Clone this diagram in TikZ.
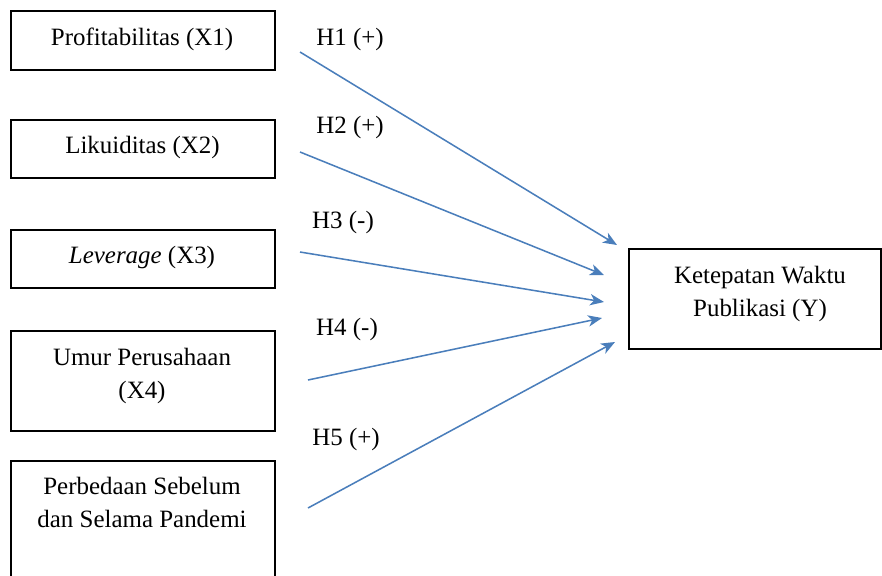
\documentclass[tikz,border=0pt]{standalone}
\usepackage{fontspec}
\setmainfont{Liberation Serif}
\usetikzlibrary{arrows.meta}
\definecolor{arrowblue}{HTML}{4A7EBB}
\begin{document}
\begin{tikzpicture}[x=0.75pt,y=-0.75pt,
  box/.style={draw=black, line width=1.1pt, minimum width=198pt, inner sep=0pt},
  txt/.style={font=\fontsize{18.7pt}{24.75pt}\selectfont, inner sep=0pt, align=center},
  hyp/.style={draw=arrowblue, line width=1.15pt, -{Stealth[length=10.5pt,width=8.5pt,inset=3pt]}}]
\useasboundingbox (0,0) rectangle (882,575);
\clip (0,0) rectangle (882,575);
% boxes
\node[box, minimum height=44.25pt] (b1) at (143,40.5) {};
\node[box, minimum height=43.5pt]  (b2) at (143,149) {};
\node[box, minimum height=43.5pt]  (b3) at (143,259) {};
\node[box, minimum height=75pt]    (b4) at (143,381) {};
\node[box, minimum height=119.25pt] (b5) at (143,540.5) {};
\node[box, minimum width=189pt, minimum height=75pt] (y) at (755,299) {};
% box texts
\node[txt, anchor=base] (t1) at (142,45) {Profitabilitas (X1)};
\node[txt, anchor=base] (t2) at (142.5,153) {Likuiditas (X2)};
\node[txt, anchor=base] (t3) at (142,263) {\textit{Leverage} (X3)};
\node[txt] (t4) at (142,376) {Umur Perusahaan\\(X4)};
\node[txt] (t5) at (142,502.5) {Perbedaan Sebelum\\dan Selama Pandemi};
\node[txt] (ty) at (760,294) {Ketepatan Waktu\\Publikasi (Y)};
% hypothesis labels
\node[txt, anchor=base] (h1) at (350,45) {H1 (+)};
\node[txt, anchor=base] (h2) at (350,133) {H2 (+)};
\node[txt, anchor=base] (h3) at (343,228) {H3 (-)};
\node[txt, anchor=base] (h4) at (347,335) {H4 (-)};
\node[txt, anchor=base] (h5) at (346,445) {H5 (+)};
% arrow end points
\coordinate (s1) at (300,52);  \coordinate (e1) at (617,245);
\coordinate (s2) at (300,152); \coordinate (e2) at (604,275);
\coordinate (s3) at (300,252); \coordinate (e3) at (604,302);
\coordinate (s4) at (308,380); \coordinate (e4) at (602,318);
\coordinate (s5) at (308,508); \coordinate (e5) at (615,342);
\draw[hyp] (s1) -- (e1);
\draw[hyp] (s2) -- (e2);
\draw[hyp] (s3) -- (e3);
\draw[hyp] (s4) -- (e4);
\draw[hyp] (s5) -- (e5);
\end{tikzpicture}
\end{document}
